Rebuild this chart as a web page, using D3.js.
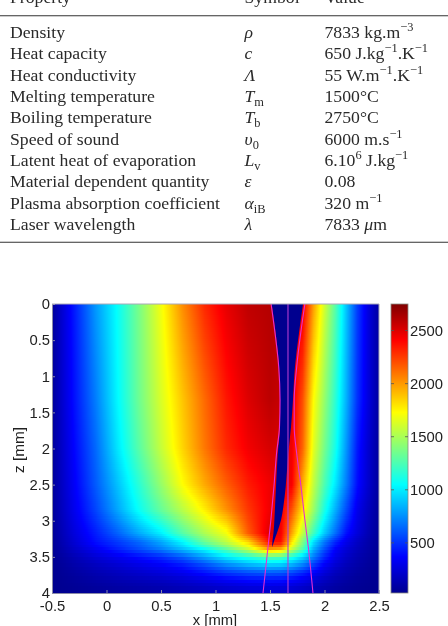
<!DOCTYPE html>
<html>
<head>
<meta charset="utf-8">
<script src="https://cdn.jsdelivr.net/npm/d3@7"></script>
<style>
  html, body { margin: 0; padding: 0; background: #fff; }
  #stage { position: relative; width: 448px; height: 626px; overflow: hidden; }
  canvas, svg { position: absolute; left: 0; top: 0; }
</style>
</head>
<body>
<div id="stage"><canvas id="field" width="448" height="626"></canvas><svg id="page" width="448" height="626"></svg></div>
<script>
// Material table
const tableHeader = ["Property", "Symbol", "Value"];
const propertyNames = [
  "Density", "Heat capacity", "Heat conductivity", "Melting temperature",
  "Boiling temperature", "Speed of sound", "Latent heat of evaporation",
  "Material dependent quantity", "Plasma absorption coefficient", "Laser wavelength"
];
// Runs are [text, style]: i italic, u superscript, d subscript, n plain
const symbolRuns = [
  [["ρ", "i"]], [["c", "i"]], [["Λ", "i"]], [["T", "i"], ["m", "d"]], [["T", "i"], ["b", "d"]],
  [["υ", "i"], ["0", "d"]], [["L", "i"], ["v", "d"]], [["ε", "i"]], [["α", "i"], ["iB", "d"]], [["λ", "i"]]
];
const valueRuns = [
  [["7833 kg.m", "n"], ["−3", "u"]],
  [["650 J.kg", "n"], ["−1", "u"], [".K", "n"], ["−1", "u"]],
  [["55 W.m", "n"], ["−1", "u"], [".K", "n"], ["−1", "u"]],
  [["1500°C", "n"]],
  [["2750°C", "n"]],
  [["6000 m.s", "n"], ["−1", "u"]],
  [["6.10", "n"], ["6", "u"], [" J.kg", "n"], ["−1", "u"]],
  [["0.08", "n"]],
  [["320 m", "n"], ["−1", "u"]],
  [["7833 ", "n"], ["μ", "i"], ["m", "n"]]
];

// Temperature field: one row of readings per depth, one column per position
const xColumns = [-0.5, -0.3, -0.1, 0.1, 0.3, 0.5, 0.7, 0.9, 1.1, 1.3, 1.5, 1.6, 1.7, 1.8, 1.9, 2.0, 2.1, 2.2, 2.3, 2.4, 2.5];
const zRows = [0, 1.33, 2, 2.5, 2.85, 3.17, 3.3, 3.4, 3.5, 3.6, 3.7, 3.8, 3.9, 4];
const temperature = [
  [60, 423, 773, 1064, 1373, 1697, 2036, 2305, 2473, 2580, 2610, 2600, 2500, 2450, 1985, 1605, 1276, 894, 534, 272, 80],
  [60, 398, 700, 1032, 1343, 1625, 1884, 2127, 2353, 2500, 2590, 2560, 2480, 2200, 1729, 1445, 1163, 840, 500, 270, 80],
  [60, 368, 645, 979, 1286, 1573, 1843, 2091, 2304, 2440, 2520, 2510, 2450, 2140, 1650, 1360, 1100, 770, 434, 230, 70],
  [60, 340, 607, 881, 1162, 1446, 1729, 1956, 2160, 2340, 2450, 2470, 2430, 1950, 1559, 1250, 990, 700, 400, 220, 70],
  [55, 310, 547, 808, 1073, 1316, 1542, 1767, 2020, 2265, 2450, 2450, 2190, 1800, 1456, 1115, 835, 565, 310, 170, 60],
  [50, 260, 440, 625, 825, 1010, 1280, 1510, 1700, 2170, 2510, 2440, 1970, 1560, 1219, 910, 660, 410, 260, 140, 55],
  [45, 230, 400, 515, 640, 810, 1030, 1330, 1560, 1830, 2380, 2380, 1800, 1389, 960, 680, 460, 300, 190, 110, 50],
  [40, 190, 320, 440, 560, 690, 860, 1030, 1270, 1560, 1950, 1900, 1560, 1250, 830, 570, 350, 240, 160, 100, 45],
  [35, 140, 240, 320, 400, 480, 610, 800, 1000, 1140, 1280, 1260, 1120, 940, 700, 470, 300, 200, 130, 85, 40],
  [30, 110, 180, 240, 300, 360, 450, 590, 750, 870, 950, 940, 860, 730, 540, 360, 240, 160, 110, 70, 35],
  [28, 85, 140, 185, 230, 275, 340, 440, 550, 620, 660, 650, 600, 510, 390, 270, 180, 125, 85, 58, 32],
  [28, 65, 105, 140, 170, 200, 245, 310, 380, 430, 450, 445, 410, 350, 270, 195, 135, 95, 65, 48, 30],
  [28, 50, 75, 100, 120, 140, 170, 205, 250, 285, 300, 295, 270, 230, 180, 135, 95, 70, 50, 38, 28],
  [28, 38, 52, 68, 80, 95, 115, 140, 165, 185, 195, 190, 175, 150, 120, 92, 68, 50, 38, 30, 28]
];

// Vapour channel walls
const holeZ = [0, 0.4, 0.87, 1.33, 1.7, 2.07, 2.53, 2.81, 2.99, 3.17, 3.27, 3.36];
const holeLeft = [1.516, 1.552, 1.583, 1.592, 1.592, 1.571, 1.555, 1.546, 1.54, 1.532, 1.523, 1.52];
const holeRight = [1.803, 1.766, 1.729, 1.711, 1.693, 1.668, 1.644, 1.622, 1.601, 1.564, 1.54, 1.522];

// Laser beam outline and axis
const beamZ = [0, 0.4, 0.87, 1.33, 1.7, 2.07, 2.53, 2.99, 3.36, 4];
const beamLeft = [1.51, 1.546, 1.58, 1.592, 1.587, 1.56, 1.536, 1.508, 1.482, 1.436];
const beamRight = [1.82, 1.782, 1.745, 1.722, 1.722, 1.745, 1.785, 1.82, 1.851, 1.894];
const beamAxis = [1.665, 1.665, 1.665, 1.665, 1.665, 1.665, 1.665, 1.665, 1.665, 1.665];

// Axis ticks
const xTicks = [-0.5, 0, 0.5, 1, 1.5, 2, 2.5];
const zTicks = [0, 0.5, 1, 1.5, 2, 2.5, 3, 3.5, 4];
const barTicks = [500, 1000, 1500, 2000, 2500];
const tempMin = 28, tempMax = 2750;

const svg = d3.select("#page");

// ---- table ----
const serif = "'Liberation Serif', serif";
const tableRoot = svg.append("g").attr("font-family", serif).attr("font-size", 17.7).attr("fill", "#2a2a2a");
const colX = [10, 244.5, 324.5];
const rowY = d3.scaleLinear().domain([0, 9]).range([37.8, 230]);

function runs(sel, list) {
  list.forEach(([t, s]) => {
    const span = sel.append("tspan").text(t);
    if (s === "i") span.attr("font-style", "italic");
    if (s === "u") span.attr("font-size", 12.4).attr("dy", -7);
    if (s === "d") span.attr("font-size", 12.4).attr("dy", 4);
    if (s === "u" || s === "d") {
      // the next run returns to the baseline
      sel.append("tspan").attr("dy", s === "u" ? 7 : -4).attr("font-size", 1).text("\u200b");
    }
  });
}
tableHeader.forEach((h, i) => tableRoot.append("text").attr("x", colX[i]).attr("y", 3.2).text(h));
propertyNames.forEach((name, i) => {
  const y = rowY(i);
  tableRoot.append("text").attr("x", colX[0]).attr("y", y).text(name);
  runs(tableRoot.append("text").attr("x", colX[1]).attr("y", y), symbolRuns[i]);
  runs(tableRoot.append("text").attr("x", colX[2]).attr("y", y), valueRuns[i]);
});
[15.7, 242.3].forEach(y => svg.append("line").attr("x1", 0).attr("x2", 448).attr("y1", y).attr("y2", y)
  .attr("stroke", "#333").attr("stroke-width", 1.1));

// ---- scales ----
const x = d3.scaleLinear().domain([-0.5, 2.5]).range([52, 379]);
const z = d3.scaleLinear().domain([0, 4]).range([304, 593]);
const barY = d3.scaleLinear().domain([tempMin, tempMax]).range([593, 304]);
const span = tempMax - tempMin;
const jet = d3.scaleLinear()
  .domain([0, 0.125, 0.375, 0.625, 0.875, 1].map(p => tempMin + p * span))
  .range(["rgb(0,0,143)", "rgb(0,0,255)", "rgb(0,255,255)", "rgb(255,255,0)", "rgb(255,0,0)", "rgb(128,0,0)"])
  .clamp(true);

// ---- field raster ----
const ctx = document.getElementById("field").getContext("2d");
const rowProfile = temperature.map(r => d3.scaleLinear().domain(xColumns).range(r));
function fieldAt(xv, zv) {
  const i = Math.min(d3.bisectRight(zRows, zv), zRows.length - 1);
  const t = (zv - zRows[i - 1]) / (zRows[i] - zRows[i - 1]);
  return rowProfile[i - 1](xv) * (1 - t) + rowProfile[i](xv) * t;
}
// Cells are fine in the melt and slightly coarser towards the bottom of the domain
const zCells = [];
for (let k = 0; k < 112; k++) zCells.push(k * 0.03);
for (let k = 0; k < 14; k++) zCells.push(3.36 + k * 0.0457);
zCells.forEach((zTop, idx) => {
  const zBot = idx + 1 < zCells.length ? zCells[idx + 1] : 4;
  const yTop = Math.round(z(zTop)), yBot = Math.round(z(zBot));
  for (let px = x.range()[0]; px < x.range()[1]; px++) {
    ctx.fillStyle = jet(fieldAt(x.invert(px + 0.5), (zTop + zBot) / 2));
    ctx.fillRect(px, yTop, 1, yBot - yTop);
  }
});
// Colour bar
for (let py = 304; py < 593; py++) {
  ctx.fillStyle = jet(barY.invert(py + 0.5));
  ctx.fillRect(391, py, 17, 1);
}

// ---- vapour channel ----
const holeArea = d3.area().x0((d, i) => x(holeLeft[i])).x1((d, i) => x(holeRight[i])).y(d => z(d)).curve(d3.curveMonotoneY);
svg.append("path").attr("d", holeArea(holeZ)).attr("fill", "rgb(0,0,143)");

// ---- beam lines ----
[beamLeft, beamAxis, beamRight].forEach((col, j) => {
  const line = d3.line().x((d, i) => x(col[i])).y(d => z(d)).curve(d3.curveMonotoneY);
  svg.append("path").attr("d", line(beamZ)).attr("fill", "none")
    .attr("stroke", j === 1 ? "#b43cd2" : "#e62ed2").attr("stroke-width", 1.1);
});

// ---- axes ----
const sans = "'Liberation Sans', Arial, sans-serif";
const fmt = d => String(d);
const axisColor = "#8a8aa8";
const xAxisG = svg.append("g").attr("transform", "translate(0,593)")
  .call(d3.axisBottom(x).tickValues(xTicks).tickFormat(fmt).tickSize(-3).tickPadding(7));
const zAxisG = svg.append("g").attr("transform", "translate(52,0)")
  .call(d3.axisLeft(z).tickValues(zTicks).tickFormat(fmt).tickSize(-3).tickPadding(2));
[xAxisG, zAxisG].forEach(g => {
  g.attr("font-family", sans).attr("font-size", 14.8);
  g.selectAll("text").attr("fill", "#222");
  g.selectAll("line, path").attr("stroke", axisColor);
});
xAxisG.selectAll("text").attr("dy", "0.71em");
svg.append("path").attr("d", `M52,304H379V593`).attr("fill", "none").attr("stroke", "#a8a8b8").attr("stroke-width", 1);

svg.append("text").attr("x", 215).attr("y", 625).attr("text-anchor", "middle")
  .attr("font-family", sans).attr("font-size", 14.8).attr("fill", "#222").text("x [mm]");
svg.append("text").attr("transform", "translate(24,450) rotate(-90)").attr("text-anchor", "middle")
  .attr("font-family", sans).attr("font-size", 15.4).attr("fill", "#222").text("z [mm]");

// ---- colour bar frame and scale ----
svg.append("rect").attr("x", 391).attr("y", 304).attr("width", 17).attr("height", 289)
  .attr("fill", "none").attr("stroke", "#8a8a80").attr("stroke-width", 0.8);
const barAxis = svg.append("g").attr("transform", "translate(408,0)")
  .call(d3.axisRight(barY).tickValues(barTicks).tickFormat(fmt).tickSize(0).tickPadding(2));
barAxis.select("path").remove();
barAxis.attr("font-family", sans).attr("font-size", 14.8);
barAxis.selectAll("text").attr("fill", "#222");
barTicks.forEach(t => {
  [[391, 394], [405, 408]].forEach(([a, b]) => svg.append("line").attr("x1", a).attr("x2", b)
    .attr("y1", barY(t)).attr("y2", barY(t)).attr("stroke", "#555").attr("stroke-width", 0.8));
});
</script>
</body>
</html>
